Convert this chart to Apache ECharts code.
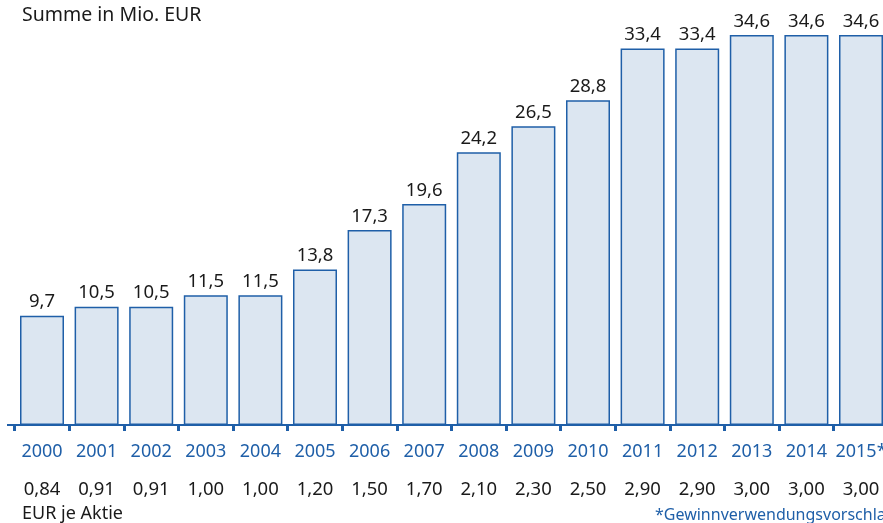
<!DOCTYPE html>
<html>
<head>
<meta charset="utf-8">
<script src="https://cdn.jsdelivr.net/npm/echarts@6/dist/echarts.min.js"></script>
<style>
  html, body { margin: 0; padding: 0; background: #fff; }
  #chart { width: 883px; height: 523px; }
</style>
</head>
<body>
<div id="chart"></div>
<script>
var years = ['2000','2001','2002','2003','2004','2005','2006','2007','2008','2009','2010','2011','2012','2013','2014','2015*'];
var summe = [9.7, 10.5, 10.5, 11.5, 11.5, 13.8, 17.3, 19.6, 24.2, 26.5, 28.8, 33.4, 33.4, 34.6, 34.6, 34.6];   // Mio. EUR
var jeAktie = [0.84, 0.91, 0.91, 1.00, 1.00, 1.20, 1.50, 1.70, 2.10, 2.30, 2.50, 2.90, 2.90, 3.00, 3.00, 3.00]; // EUR je Aktie

var blue = '#1f5fa8';
var font = '"Noto Sans", sans-serif';

function deNum(v, d) {
    return v.toFixed(d).replace('.', ',');
}

var chart = echarts.init(document.getElementById('chart'));

var option = {
    backgroundColor: '#ffffff',
    animation: false,
    textStyle: { fontFamily: font },
    grid: { left: 14.7, width: 873.6, top: 0, bottom: 98, containLabel: false, outerBoundsMode: 'none' },
    graphic: [
        { type: 'text', left: 22, top: 5,
          style: { text: 'Summe in Mio. EUR', fontSize: 19.5, fontFamily: font, fill: '#1a1a1a' } },
        { type: 'text', left: 22, top: 505,
          style: { text: 'EUR je Aktie', fontSize: 18, fontFamily: font, fill: '#1a1a1a' } },
        { type: 'text', left: 655, top: 507,
          style: { text: '*Gewinnverwendungsvorschlag', fontSize: 16, fontFamily: font, fill: blue } },
        { type: 'line', shape: { x1: 7, y1: 425, x2: 15, y2: 425 },
          style: { stroke: blue, lineWidth: 2 } }
    ],
    xAxis: {
        type: 'category',
        data: years,
        axisLine: { lineStyle: { color: blue, width: 2 } },
        axisTick: { show: true, length: 6, lineStyle: { color: blue, width: 3 } },
        axisLabel: {
            interval: 0,
            margin: 8,
            formatter: function (val, idx) {
                return '{y|' + val + '}\n{d|' + deNum(jeAktie[idx], 2) + '}';
            },
            rich: {
                y: { color: blue, fontSize: 18, fontFamily: font, lineHeight: 38 },
                d: { color: '#1a1a1a', fontSize: 18.5, fontFamily: font, lineHeight: 38 }
            }
        }
    },
    yAxis: {
        type: 'value',
        min: 0,
        max: 37.7,
        show: false,
        splitLine: { show: false }
    },
    series: [{
        type: 'bar',
        data: summe,
        barWidth: 44,
        itemStyle: { color: '#dce6f1', borderColor: blue, borderWidth: 1.5 },
        label: {
            show: true,
            position: 'top',
            distance: 4,
            color: '#1a1a1a',
            fontSize: 18.5,
            fontFamily: font,
            formatter: function (p) { return deNum(p.value, 1); }
        }
    }]
};

chart.setOption(option);
</script>
</body>
</html>
